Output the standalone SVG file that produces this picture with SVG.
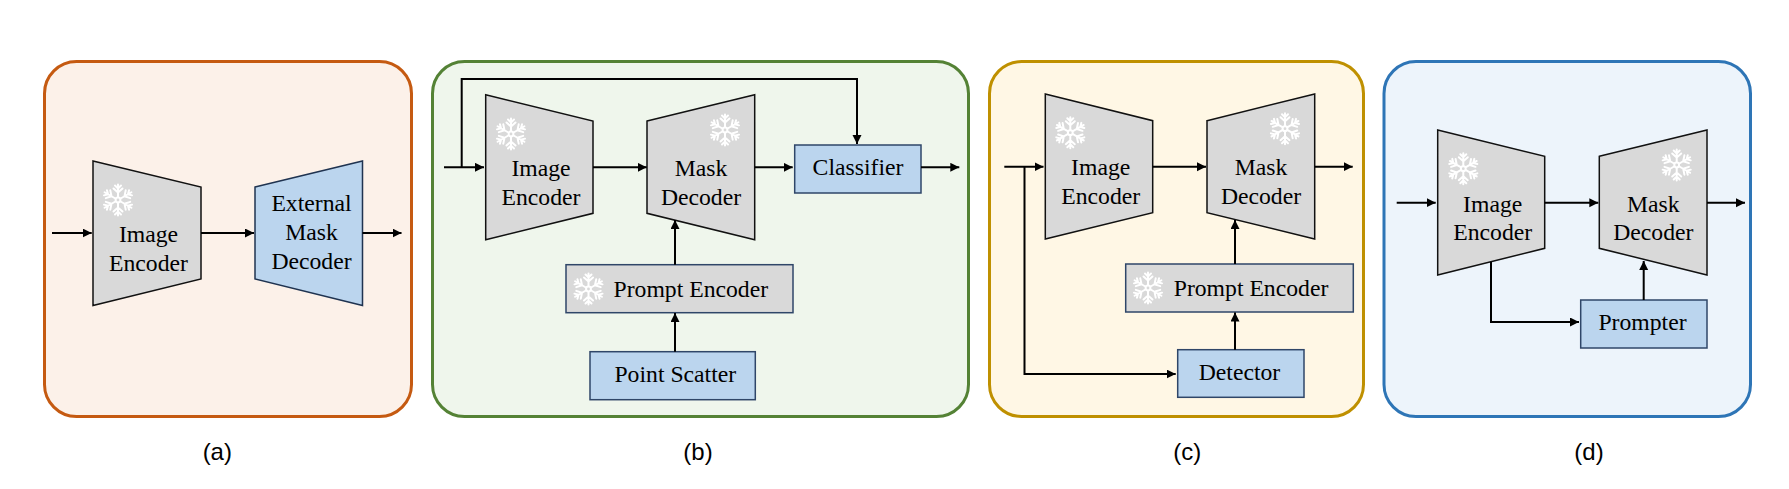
<svg xmlns="http://www.w3.org/2000/svg" xmlns:xlink="http://www.w3.org/1999/xlink" width="1789" height="489" viewBox="0 0 1789 489">
<style>
.panel{stroke-width:3}
.trap{fill:#d9d9d9;stroke:#111;stroke-width:1.5;stroke-linejoin:miter}
.trapb{fill:#bbd5ee;stroke:#1f3350;stroke-width:1.5}
.box{fill:#d9d9d9;stroke:#2f4668;stroke-width:1.5}
.boxb{fill:#bbd5ee;stroke:#2f4668;stroke-width:1.5}
text{font-family:"Liberation Serif","Times New Roman",serif;font-size:23.7px;fill:#000;text-anchor:middle}
text.cap{font-family:"Liberation Sans",Arial,sans-serif;font-size:24px}
.c path{fill:none;stroke:#000;stroke-width:2;marker-end:url(#a)}
.flake{fill:none;stroke:#fff;stroke-width:2;stroke-linecap:round}
</style>
<defs>
<marker id="a" markerUnits="userSpaceOnUse" markerWidth="10" markerHeight="10" refX="9" refY="4.500" orient="auto"><path d="M0 0L9 4.500L0 9Z" fill="#000"/></marker>
<g id="arm"><path d="M0-3V-15.500M0-7.500L-4.500-11.500M0-7.500L4.500-11.500M0-11.500L-3-14.500M0-11.500L3-14.500"/></g>
<g id="f" class="flake"><circle r="2.4"/><use xlink:href="#arm"/><use xlink:href="#arm" transform="rotate(60)"/><use xlink:href="#arm" transform="rotate(120)"/><use xlink:href="#arm" transform="rotate(180)"/><use xlink:href="#arm" transform="rotate(240)"/><use xlink:href="#arm" transform="rotate(300)"/></g>
</defs>
<rect width="1789" height="489" fill="#fff"/>
<g id="panel-a"><rect class="panel" x="44.500" y="61.500" width="367" height="355" rx="32" fill="#fcf1e9" stroke="#c55a11"/><text class="cap" x="217.300" y="459.500">(a)</text></g>
<g id="panel-b"><rect class="panel" x="432.500" y="61.500" width="536" height="355" rx="32" fill="#eff6ec" stroke="#548235"/><text class="cap" x="698" y="459.500">(b)</text></g>
<g id="panel-c"><rect class="panel" x="989.500" y="61.500" width="374" height="355" rx="32" fill="#fff7e5" stroke="#bf9000"/><text class="cap" x="1187.300" y="459.500">(c)</text></g>
<g id="panel-d"><rect class="panel" x="1384" y="61.500" width="366.500" height="355" rx="32" fill="#edf4fb" stroke="#2e75b6"/><text class="cap" x="1589" y="459.500">(d)</text></g>

<g id="a-image-encoder"><polygon class="trap" points="93,161 201,187 201,279 93,305.500"/><use xlink:href="#f" x="118" y="200"/><text x="148.500" y="242">Image</text><text x="148.500" y="270.500">Encoder</text></g>
<g id="a-external-mask-decoder"><polygon class="trapb" points="255,187 362.500,161 362.500,305.500 255,279"/><text x="311.500" y="210.500">External</text><text x="311.500" y="240">Mask</text><text x="311.500" y="268.500">Decoder</text></g>

<g id="b-image-encoder"><polygon class="trap" points="485.700,94.700 593,121 593,213.300 485.700,239.700"/><use xlink:href="#f" x="511" y="134"/><text x="541" y="176">Image</text><text x="541" y="204.500">Encoder</text></g>
<g id="b-mask-decoder"><polygon class="trap" points="647,121 754.700,94.700 754.700,239.700 647,213.300"/><use xlink:href="#f" x="725" y="130"/><text x="701" y="176">Mask</text><text x="701" y="204.500">Decoder</text></g>
<g id="b-classifier"><rect class="boxb" x="794.700" y="145" width="126.300" height="48"/><text x="858" y="175">Classifier</text></g>
<g id="b-prompt-encoder"><rect class="box" x="566" y="264.700" width="227" height="48"/><use xlink:href="#f" x="588.500" y="289"/><text x="690.800" y="297">Prompt Encoder</text></g>
<g id="b-point-scatter"><rect class="boxb" x="590" y="351.700" width="165.300" height="48"/><text x="675.300" y="382">Point Scatter</text></g>

<g id="c-image-encoder"><polygon class="trap" points="1045.300,94 1152.700,120.700 1152.700,212.700 1045.300,239"/><use xlink:href="#f" x="1070.300" y="132.700"/><text x="1100.700" y="175">Image</text><text x="1100.700" y="203.700">Encoder</text></g>
<g id="c-mask-decoder"><polygon class="trap" points="1207,120.700 1314.700,94 1314.700,239 1207,212.700"/><use xlink:href="#f" x="1285" y="128.700"/><text x="1261" y="175">Mask</text><text x="1261" y="203.700">Decoder</text></g>
<g id="c-prompt-encoder"><rect class="box" x="1125.700" y="264" width="227.600" height="48"/><use xlink:href="#f" x="1148" y="288"/><text x="1251" y="296">Prompt Encoder</text></g>
<g id="c-detector"><rect class="boxb" x="1177.700" y="349.700" width="126.300" height="47.600"/><text x="1239.500" y="380">Detector</text></g>

<g id="d-image-encoder"><polygon class="trap" points="1437.700,130 1544.700,156.300 1544.700,248.300 1437.700,275"/><use xlink:href="#f" x="1463.300" y="168.700"/><text x="1492.700" y="212">Image</text><text x="1492.700" y="240">Encoder</text></g>
<g id="d-mask-decoder"><polygon class="trap" points="1599.300,156.300 1707,130 1707,275 1599.300,248.300"/><use xlink:href="#f" x="1676.700" y="165"/><text x="1653.300" y="212">Mask</text><text x="1653.300" y="240">Decoder</text></g>
<g id="d-prompter"><rect class="boxb" x="1580.700" y="300" width="126.300" height="48"/><text x="1642.500" y="329.500">Prompter</text></g>

<g id="connectors" class="c">
<path d="M52 233H91.700"/><path d="M201 233H254"/><path d="M362.500 233H401.500"/>
<path d="M444 167.300H484"/><path d="M461.700 167.300V79H857V144"/><path d="M593 167.300H646.700"/><path d="M754.700 167.300H792.700"/><path d="M921 167.300H959.300"/><path d="M675 264.700V220"/><path d="M675 351.700V313"/>
<path d="M1004.300 166.700H1043.500"/><path d="M1024.500 166.700V374H1175.700"/><path d="M1152.700 166.700H1206"/><path d="M1314.700 166.700H1352.700"/><path d="M1235 264V220"/><path d="M1235 349.700V312.500"/>
<path d="M1396.700 202.700H1435.700"/><path d="M1544.700 202.700H1598.300"/><path d="M1707 202.700H1745"/><path d="M1491 261.700V322H1579"/><path d="M1643.700 300V261"/>
</g>
</svg>
